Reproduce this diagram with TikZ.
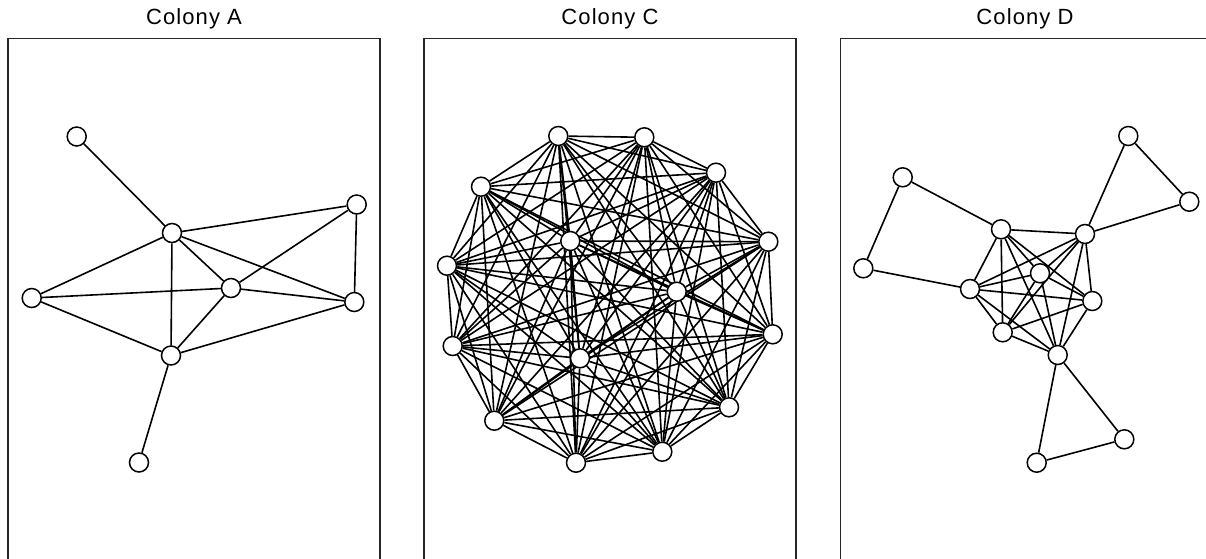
\documentclass[tikz,border=0pt]{standalone}
\usepackage{fontspec}
\setmainfont{Liberation Sans}
\usetikzlibrary{backgrounds}
\tikzset{
  v/.style={circle,draw=black,fill=white,line width=1.5pt,minimum size=19pt,inner sep=0pt},
  e/.style={line width=1.6pt,draw=black},
  panel/.style={draw=black!85,line width=1.5pt},
  title/.style={font=\fontsize{22}{26}\selectfont\addfontfeature{LetterSpace=5},anchor=center}
}
\begin{document}
\begin{tikzpicture}[x=1pt,y=-1pt]
\useasboundingbox (0,0) rectangle (1206,558);
\clip (0,0) rectangle (1206,558);
% panels
\draw[panel] (8,38.5) rectangle (380,600);
\draw[panel] (424,38.5) rectangle (796,600);
\draw[panel] (840.5,38.5) rectangle (1215,600);
\node[title] (tA) at (194,19) {Colony A};
\node[title] (tC) at (610,19) {Colony C};
\node[title] (tD) at (1025,19) {Colony D};
% Colony A
\node[v] (a1) at (76.7,136.5) {};
\node[v] (a2) at (172,233) {};
\node[v] (a3) at (356.7,204.5) {};
\node[v] (a4) at (31.7,298) {};
\node[v] (a5) at (231,288) {};
\node[v] (a6) at (354.3,302) {};
\node[v] (a7) at (171,355.5) {};
\node[v] (a8) at (139,462.5) {};
\begin{pgfonlayer}{background}
\foreach \p/\q in {a1/a2,a2/a3,a2/a4,a2/a5,a2/a6,a2/a7,a3/a5,a3/a6,a4/a5,a4/a7,a5/a6,a5/a7,a6/a7,a7/a8}
  \draw[e] (\p) -- (\q);
\end{pgfonlayer}
% Colony C
\node[v] (c1) at (558.3,136) {};
\node[v] (c2) at (644.3,137.3) {};
\node[v] (c3) at (716,172.7) {};
\node[v] (c4) at (768.3,241.7) {};
\node[v] (c5) at (772.7,334.3) {};
\node[v] (c6) at (729,407.3) {};
\node[v] (c7) at (662.3,451.7) {};
\node[v] (c8) at (576,462.7) {};
\node[v] (c9) at (494.3,420.7) {};
\node[v] (c10) at (452.7,346) {};
\node[v] (c11) at (447,265.7) {};
\node[v] (c12) at (481,186.7) {};
\node[v] (c13) at (570.3,241) {};
\node[v] (c14) at (676.7,291.7) {};
\node[v] (c15) at (580,358.3) {};
\begin{pgfonlayer}{background}
\foreach \i [evaluate=\i as \s using int(\i+1)] in {1,...,14}
  \foreach \j in {\s,...,15}
    \draw[e] (c\i) -- (c\j);
\end{pgfonlayer}
% Colony D
\node[v] (p1) at (902.7,177.3) {};
\node[v] (p2) at (863.3,268.3) {};
\node[v] (q1) at (1128.3,136) {};
\node[v] (q2) at (1189.3,201.7) {};
\node[v] (r1) at (1124.3,439.3) {};
\node[v] (r2) at (1036.7,462.7) {};
\node[v] (d1) at (1001,229.3) {};
\node[v] (d2) at (1085,234) {};
\node[v] (d3) at (1040,273.3) {};
\node[v] (d4) at (970,289) {};
\node[v] (d5) at (1092.3,301) {};
\node[v] (d6) at (1002.7,332.3) {};
\node[v] (d7) at (1057.7,355) {};
\begin{pgfonlayer}{background}
\foreach \i [evaluate=\i as \s using int(\i+1)] in {1,...,6}
  \foreach \j in {\s,...,7}
    \draw[e] (d\i) -- (d\j);
\foreach \p/\q in {d1/p1,p1/p2,p2/d4,d2/q1,q1/q2,q2/d2,d7/r1,r1/r2,r2/d7}
  \draw[e] (\p) -- (\q);
\end{pgfonlayer}
\end{tikzpicture}
\end{document}
